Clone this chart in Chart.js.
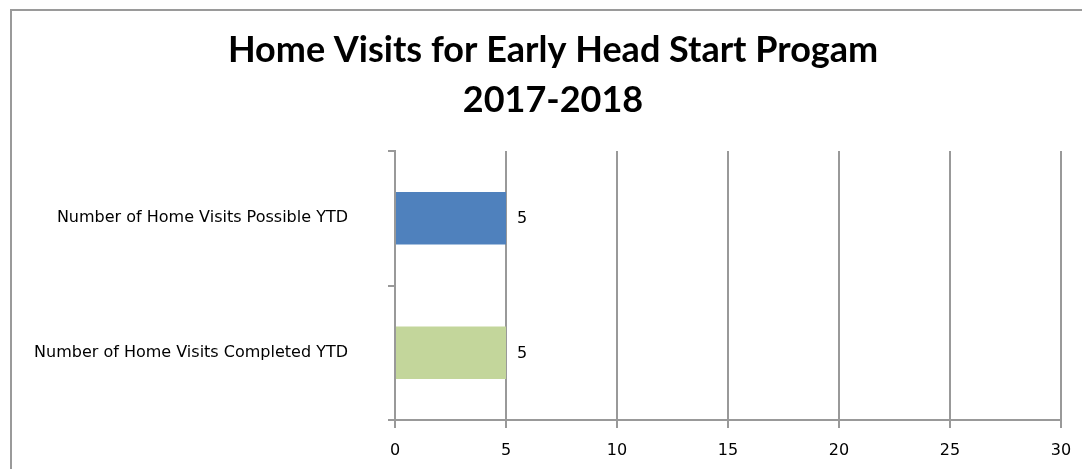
<!DOCTYPE html>
<html>
<head>
<meta charset="utf-8">
<script src="https://cdn.jsdelivr.net/npm/chart.js@4.4.1/dist/chart.umd.min.js"></script>
<style>
  html, body { margin: 0; padding: 0; background: #ffffff; }
  #wrap { width: 1082px; height: 469px; position: relative; }
</style>
</head>
<body>
<div id="wrap"><canvas id="c" width="1082" height="469"></canvas></div>
<script>
const titleLines = ['Home Visits for Early Head Start Progam', '2017-2018'];
const categories = ['Number of Home Visits Possible YTD', 'Number of Home Visits Completed YTD'];
const values = [5, 5];
const barColors = ['#4F81BD', '#C3D69B'];
const xTicks = [0, 5, 10, 15, 20, 25, 30];

const frame = {
  id: 'frame',
  beforeDraw(chart) {
    const ctx = chart.ctx;
    ctx.save();
    ctx.fillStyle = '#ffffff';
    ctx.fillRect(0, 0, chart.width, chart.height);
    ctx.strokeStyle = '#9a9a9a';
    ctx.lineWidth = 2;
    ctx.strokeRect(11, 10, chart.width + 20, chart.height + 20);
    ctx.restore();
  }
};

const titleShift = {
  id: 'titleShift',
  afterLayout(chart) {
    const t = chart.titleBlock;
    if (t) {
      const centre = 553;
      t.left = 2 * centre - t.right;
      t.width = t.right - t.left;
    }
  }
};

const valueLabels = {
  id: 'valueLabels',
  afterDatasetsDraw(chart) {
    const ctx = chart.ctx;
    const meta = chart.getDatasetMeta(0);
    ctx.save();
    ctx.fillStyle = '#000000';
    ctx.font = '16px "DejaVu Sans"';
    ctx.textAlign = 'left';
    ctx.textBaseline = 'middle';
    meta.data.forEach((bar, i) => {
      ctx.fillText(String(values[i]), bar.x + 11, bar.y + 1);
    });
    ctx.restore();
  }
};

new Chart(document.getElementById('c'), {
  type: 'bar',
  data: {
    labels: categories,
    datasets: [{
      data: values,
      backgroundColor: barColors,
      borderWidth: 0,
      categoryPercentage: 1,
      barPercentage: 0.39
    }]
  },
  options: {
    indexAxis: 'y',
    responsive: false,
    animation: false,
    events: [],
    layout: { padding: { left: 0, right: 21, top: 0, bottom: 0 } },
    plugins: {
      legend: { display: false },
      tooltip: { enabled: false },
      title: {
        display: true,
        text: titleLines,
        color: '#000000',
        font: { family: 'Lato', weight: 'bold', size: 36, lineHeight: 1.375 },
        padding: { top: 26, bottom: 26 }
      }
    },
    scales: {
      x: {
        min: 0,
        max: 30,
        afterBuildTicks(scale) { scale.ticks = xTicks.map(v => ({ value: v })); },
        ticks: {
          color: '#000000',
          font: { family: 'DejaVu Sans', size: 16 },
          padding: 13,
          maxRotation: 0
        },
        grid: { color: '#999999', lineWidth: 2, tickLength: 8, drawOnChartArea: true },
        border: { display: true, color: '#999999', width: 2 },
        afterFit(scale) {
          scale.height = 49;
          scale.paddingLeft = 0;
          scale.paddingRight = 0;
        }
      },
      y: {
        ticks: {
          color: '#000000',
          font: { family: 'DejaVu Sans', size: 16 },
          padding: 40
        },
        grid: { color: '#999999', lineWidth: 2, tickLength: 7, drawOnChartArea: false, offset: true },
        border: { display: true, color: '#999999', width: 2 },
        afterFit(scale) {
          scale.width = 395;
          scale.paddingTop = 0;
          scale.paddingBottom = 0;
        }
      }
    }
  },
  plugins: [frame, titleShift, valueLabels]
});
</script>
</body>
</html>
